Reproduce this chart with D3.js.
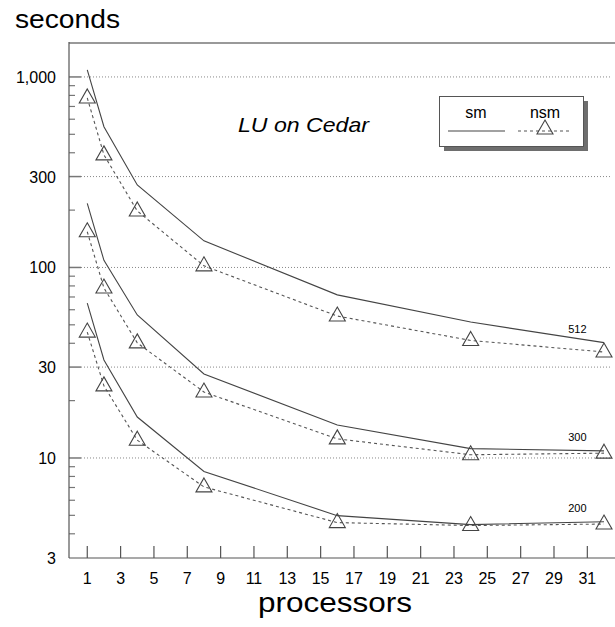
<!DOCTYPE html>
<html>
<head>
<meta charset="utf-8">
<script src="https://cdn.jsdelivr.net/npm/d3@7"></script>
<style>
  body { margin: 0; background: #fff; }
  text { font-family: "Liberation Sans", Arial, sans-serif; fill: #000; }
</style>
</head>
<body>
<svg id="chart" width="615" height="627"></svg>
<script>
// processor counts
let procs = [1, 2, 4, 8, 16, 24, 32];

// seconds (log scale)
let sm512 = [1090, 548, 271, 138, 71.8, 51.7, 40.3];
let nsm512 = [776, 390, 198, 102, 55.6, 41.4, 36];
let sm300 = [217, 109, 56.3, 27.6, 14.9, 11.2, 10.9];
let nsm300 = [154, 78, 40.2, 22.2, 12.6, 10.4, 10.6];
let sm200 = [65, 32.7, 16.4, 8.5, 4.98, 4.47, 4.63];
let nsm200 = [45.8, 23.9, 12.4, 7.05, 4.58, 4.42, 4.5];

let sizeLabels = ["512", "300", "200"];
let yTickValues = [1000, 300, 100, 30, 10, 3];
let xTickValues = [1, 3, 5, 7, 9, 11, 13, 15, 17, 19, 21, 23, 25, 27, 29, 31];

let svg = d3.select("#chart");

const plotLeft = 69, plotTop = 43, plotBottom = 558, plotRight = 615;

let xScale = d3.scaleLinear()
    .domain([0, 32])
    .range([70.6, 604]);
let yScale = d3.scaleLog()
    .domain([3, 1500])
    .range([557.6, 43.4]);

// minor ticks on the y axis
let minor = [];
[1, 10, 100].forEach(function(dec) {
    for (let k = 2; k <= 9; k++) {
        let v = k * dec;
        if (v > 3 && v < 1500 && yTickValues.indexOf(v) < 0) minor.push(v);
    }
});
svg.append("g").selectAll("line")
    .data(minor)
    .enter().append("line")
    .attr("x1", plotLeft).attr("x2", plotLeft + 6)
    .attr("y1", d => yScale(d)).attr("y2", d => yScale(d))
    .attr("stroke", "#777").attr("stroke-width", 1.2);

// major ticks + dotted grid
let grid = svg.append("g");
grid.selectAll("line.grid")
    .data(yTickValues.filter(d => d > 3))
    .enter().append("line")
    .attr("class", "grid")
    .attr("x1", plotLeft + 12).attr("x2", 610)
    .attr("y1", d => yScale(d)).attr("y2", d => yScale(d))
    .attr("stroke", "#888").attr("stroke-width", 1)
    .attr("stroke-dasharray", "1,2");
grid.selectAll("line.major")
    .data(yTickValues.filter(d => d > 3))
    .enter().append("line")
    .attr("class", "major")
    .attr("x1", plotLeft).attr("x2", plotLeft + 12)
    .attr("y1", d => yScale(d)).attr("y2", d => yScale(d))
    .attr("stroke", "#777").attr("stroke-width", 1.5);

// y tick labels
svg.append("g").selectAll("text")
    .data(yTickValues)
    .enter().append("text")
    .attr("x", 56)
    .attr("y", d => yScale(d) + 6)
    .attr("text-anchor", "end")
    .style("font-size", "16px")
    .text(d => d3.format(",")(d));

// x ticks (pointing up from the axis)
let xt = svg.append("g");
xt.selectAll("line")
    .data(xTickValues)
    .enter().append("line")
    .attr("x1", d => xScale(d)).attr("x2", d => xScale(d))
    .attr("y1", plotBottom).attr("y2", plotBottom - 12)
    .attr("stroke", "#555").attr("stroke-width", 1.2);
xt.selectAll("text")
    .data(xTickValues)
    .enter().append("text")
    .attr("x", d => xScale(d))
    .attr("y", 584)
    .attr("text-anchor", "middle")
    .style("font-size", "16px")
    .text(d => d);

// frame
svg.append("line").attr("x1", plotLeft).attr("x2", plotRight).attr("y1", plotTop).attr("y2", plotTop)
    .attr("stroke", "#999").attr("stroke-width", 2);
svg.append("line").attr("x1", plotLeft).attr("x2", plotLeft).attr("y1", plotTop - 1).attr("y2", plotBottom)
    .attr("stroke", "#555").attr("stroke-width", 1.2);
svg.append("line").attr("x1", plotLeft).attr("x2", plotRight).attr("y1", plotBottom).attr("y2", plotBottom)
    .attr("stroke", "#555").attr("stroke-width", 1.2);

// lines
let line = d3.line()
    .x((d, i) => xScale(procs[i]))
    .y(d => yScale(d));

let triangle = "M0,-9L8,5L-8,5Z";

let smSeries = [sm512, sm300, sm200];
let nsmSeries = [nsm512, nsm300, nsm200];

smSeries.forEach(function(s) {
    svg.append("path")
        .attr("d", line(s))
        .attr("fill", "none")
        .attr("stroke", "#444")
        .attr("stroke-width", 1.1);
});

nsmSeries.forEach(function(s) {
    svg.append("path")
        .attr("d", line(s))
        .attr("fill", "none")
        .attr("stroke", "#555")
        .attr("stroke-width", 1.1)
        .attr("stroke-dasharray", "3,3");
    svg.append("g").selectAll("path")
        .data(s)
        .enter().append("path")
        .attr("d", triangle)
        .attr("transform", (d, i) => "translate(" + xScale(procs[i]) + "," + yScale(d) + ")")
        .attr("fill", "none")
        .attr("stroke", "#444")
        .attr("stroke-width", 1.1);
});

// problem size labels
smSeries.forEach(function(s, i) {
    svg.append("text")
        .attr("x", xScale(30.4))
        .attr("y", yScale(s[s.length - 1]) - 10)
        .attr("text-anchor", "middle")
        .style("font-size", "11px")
        .text(sizeLabels[i]);
});

// title inside the plot
svg.append("text")
    .attr("x", 238)
    .attr("y", 132)
    .style("font-size", "21px")
    .style("font-style", "italic")
    .attr("textLength", 131)
    .attr("lengthAdjust", "spacingAndGlyphs")
    .text("LU on Cedar");

// legend
let lg = svg.append("g");
lg.append("rect").attr("x", 444).attr("y", 101).attr("width", 144).attr("height", 50)
    .attr("fill", "#6e6e6e");
lg.append("rect").attr("x", 439.5).attr("y", 96.5).attr("width", 144).attr("height", 50)
    .attr("fill", "#fff").attr("stroke", "#555").attr("stroke-width", 1);
lg.append("text").attr("x", 476).attr("y", 118).attr("text-anchor", "middle")
    .style("font-size", "16px").text("sm");
lg.append("text").attr("x", 545).attr("y", 118).attr("text-anchor", "middle")
    .style("font-size", "16px").text("nsm");
lg.append("line").attr("x1", 448).attr("x2", 505).attr("y1", 131).attr("y2", 131)
    .attr("stroke", "#444").attr("stroke-width", 1.1);
lg.append("line").attr("x1", 518).attr("x2", 572).attr("y1", 131).attr("y2", 131)
    .attr("stroke", "#555").attr("stroke-width", 1.1).attr("stroke-dasharray", "3,3");
lg.append("path").attr("d", triangle).attr("transform", "translate(545,129)")
    .attr("fill", "none").attr("stroke", "#444").attr("stroke-width", 1.1);

// axis titles
svg.append("text")
    .attr("x", 15).attr("y", 28)
    .style("font-size", "25px")
    .attr("textLength", 105)
    .attr("lengthAdjust", "spacingAndGlyphs")
    .text("seconds");
svg.append("text")
    .attr("x", 258).attr("y", 612)
    .style("font-size", "28px")
    .attr("textLength", 154)
    .attr("lengthAdjust", "spacingAndGlyphs")
    .text("processors");
</script>
</body>
</html>
